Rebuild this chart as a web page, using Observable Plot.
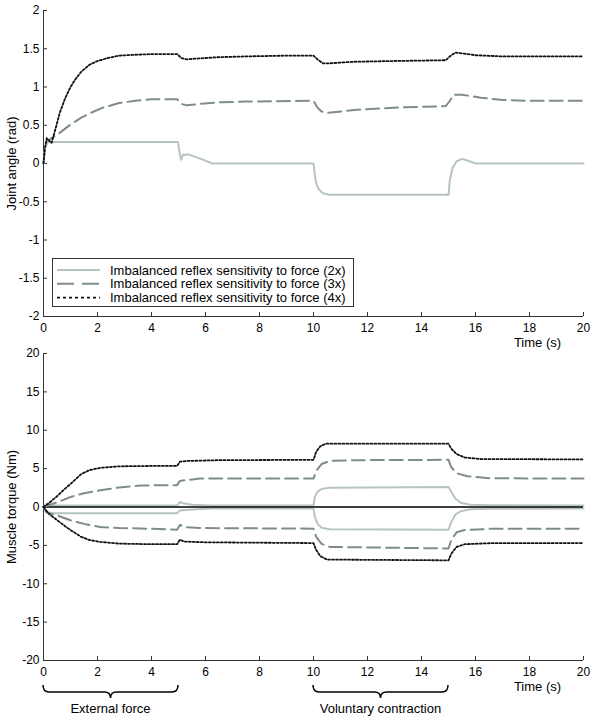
<!DOCTYPE html>
<html>
<head>
<meta charset="utf-8">
<script src="https://cdn.jsdelivr.net/npm/d3@7"></script>
<script src="https://cdn.jsdelivr.net/npm/@observablehq/plot@0.6"></script>
<style>
  body { margin: 0; background: white; }
  #wrap { position: relative; width: 600px; height: 719px; overflow: hidden; font-family: "Liberation Sans", Arial, sans-serif; }
  #top, #bottom { position: absolute; left: 0; }
  #top { top: 0; }
  #bottom { top: 330px; }
</style>
</head>
<body>
<div id="wrap"><div id="top"></div><div id="bottom"></div></div>
<script>
// ---------- data ----------
const seriesNames = [
  "Imbalanced reflex sensitivity to force (2x)",
  "Imbalanced reflex sensitivity to force (3x)",
  "Imbalanced reflex sensitivity to force (4x)"
];
const xTicks = [0, 2, 4, 6, 8, 10, 12, 14, 16, 18, 20];
const angleTicks = [-2, -1.5, -1, -0.5, 0, 0.5, 1, 1.5, 2];
const torqueTicks = [-20, -15, -10, -5, 0, 5, 10, 15, 20];

// Joint angle (rad) vs time (s): [t, value]
const angle2x = [[0,0],[0.05,0.18],[0.15,0.28],[4.98,0.28],[5.05,0.12],[5.1,0.05],[5.17,0.12],[5.25,0.11],[5.35,0.12],[5.6,0.09],[5.9,0.05],[6.25,0.0],[10.0,0.0],[10.05,-0.15],[10.1,-0.26],[10.2,-0.34],[10.35,-0.39],[10.6,-0.41],[15.0,-0.41],[15.05,-0.22],[15.15,-0.06],[15.3,0.03],[15.5,0.06],[15.7,0.04],[16.0,0.0],[20,0.0]];
const angle3x = [[0,0],[0.05,0.2],[0.12,0.3],[0.3,0.33],[0.6,0.4],[1.0,0.51],[1.4,0.6],[1.8,0.67],[2.2,0.73],[2.8,0.79],[3.4,0.82],[4.0,0.84],[4.95,0.84],[5.1,0.78],[5.3,0.76],[5.8,0.78],[6.5,0.8],[7.5,0.81],[10,0.82],[10.15,0.73],[10.3,0.68],[10.5,0.66],[11.5,0.7],[13,0.73],[14.9,0.75],[15.05,0.82],[15.2,0.9],[15.5,0.9],[16.2,0.86],[17,0.83],[18,0.82],[20,0.82]];
const angle4x = [[0,0],[0.05,0.2],[0.12,0.33],[0.2,0.3],[0.3,0.27],[0.45,0.46],[0.6,0.66],[0.8,0.85],[1.0,1.0],[1.2,1.11],[1.4,1.2],[1.7,1.29],[2.0,1.34],[2.4,1.38],[2.8,1.41],[3.3,1.42],[4.0,1.43],[4.95,1.43],[5.1,1.38],[5.3,1.36],[5.6,1.37],[6.5,1.39],[7.5,1.4],[9,1.41],[10,1.41],[10.15,1.36],[10.35,1.31],[10.6,1.31],[11.5,1.33],[13,1.34],[14.9,1.35],[15.05,1.4],[15.25,1.45],[15.5,1.44],[16,1.415],[17,1.4],[20,1.4]];

// Muscle torque (Nm) vs time (s): agonist (+) and antagonist (-)
const torque2xPos = [[0,0],[0.1,0.4],[0.3,0.2],[4.95,0.2],[5.05,0.65],[5.15,0.5],[5.5,0.3],[6.2,0.2],[10,0.2],[10.05,1.3],[10.15,2.0],[10.3,2.35],[10.6,2.5],[12,2.55],[15,2.6],[15.1,2.0],[15.25,1.1],[15.45,0.55],[15.8,0.3],[16.5,0.22],[20,0.2]];
const torque2xNeg = [[0,0],[0.1,-0.6],[0.3,-0.8],[4.95,-0.8],[5.05,-0.45],[5.3,-0.38],[5.8,-0.25],[6.3,-0.2],[10,-0.2],[10.05,-1.3],[10.15,-2.2],[10.3,-2.7],[10.6,-2.9],[15,-2.95],[15.1,-2.0],[15.25,-1.0],[15.45,-0.55],[15.8,-0.3],[16.5,-0.22],[20,-0.2]];
const torque3xPos = [[0,0],[0.5,0.6],[1.0,1.3],[1.5,1.8],[2.1,2.17],[2.8,2.55],[3.6,2.8],[4.95,2.85],[5.05,3.4],[5.4,3.55],[5.8,3.7],[10,3.7],[10.1,4.7],[10.3,5.6],[10.6,6.0],[11.5,6.1],[15,6.15],[15.1,5.2],[15.3,4.4],[15.7,4.0],[16.5,3.75],[20,3.7]];
const torque3xNeg = [[0,0],[0.1,-0.7],[0.5,-1.1],[1.0,-1.73],[1.5,-2.2],[2.1,-2.6],[2.8,-2.75],[3.6,-2.8],[4.95,-2.95],[5.05,-2.35],[5.3,-2.65],[6,-2.75],[10,-2.82],[10.1,-3.9],[10.3,-4.8],[10.6,-5.2],[15,-5.4],[15.1,-4.3],[15.3,-3.3],[15.6,-3.0],[16.5,-2.85],[20,-2.82]];
const torque4xPos = [[0,0],[0.2,0.5],[0.5,1.4],[0.8,2.4],[1.0,3.0],[1.4,4.3],[1.7,4.8],[2.1,5.1],[2.8,5.3],[4,5.35],[4.95,5.35],[5.05,5.9],[5.3,6.0],[6.5,6.1],[10,6.15],[10.1,7.2],[10.25,7.9],[10.45,8.25],[15,8.25],[15.1,7.6],[15.3,6.9],[15.6,6.45],[16.2,6.25],[20,6.2]];
const torque4xNeg = [[0,0],[0.2,-0.9],[0.5,-1.7],[0.8,-2.5],[1.0,-3.0],[1.4,-3.9],[1.7,-4.3],[2.1,-4.55],[2.8,-4.77],[4,-4.85],[4.95,-4.85],[5.05,-4.25],[5.2,-4.5],[6,-4.6],[10,-4.7],[10.1,-5.6],[10.25,-6.4],[10.5,-6.85],[15,-6.95],[15.1,-6.1],[15.3,-5.2],[15.6,-4.85],[16.5,-4.72],[20,-4.7]];

// annotation braces
const braceStart = [0, 10];
const braceEnd = [5, 15];
const braceLabels = ["External force", "Voluntary contraction"];

// ---------- styles ----------
const FONT = '"Liberation Sans", Arial, sans-serif';
const C2 = "#b6c4c2", C3 = "#7e8c8b", C4 = "#111111";
const st2 = {stroke: C2, strokeWidth: 2};
const st3 = {stroke: C3, strokeWidth: 2, strokeDasharray: "13,6"};
const st4 = {stroke: C4, strokeWidth: 1.8, strokeDasharray: "2,2"};
const AX = "#333";

function axesMarks(yTicks, yLabel, plotW, plotH, yMin) {
  return [
    Plot.axisX({ticks: xTicks, tickSize: 0, tickPadding: 7, tickFormat: d => String(d), fontSize: 12, label: null}),
    Plot.axisY({ticks: yTicks, tickSize: 0, tickPadding: 4, tickFormat: d => String(d), fontSize: 12, label: null}),
    Plot.tickX(xTicks, {x: d => d, stroke: AX, insetTop: plotH - 4}),
    Plot.tickY(yTicks, {y: d => d, stroke: AX, insetRight: plotW - 4}),
    Plot.ruleX([0], {stroke: AX, strokeWidth: 1}),
    Plot.ruleY([yMin], {stroke: AX, strokeWidth: 1}),
    Plot.text([yLabel], {frameAnchor: "left", textAnchor: "middle", rotate: -90, dx: -32, fontSize: 13, fill: "#000"}),
    Plot.text(["Time (s)"], {frameAnchor: "bottom-right", textAnchor: "middle", dx: -46, dy: 30, fontSize: 13, fill: "#000"})
  ];
}

const line = (data, st) => Plot.line(data, {x: d => d[0], y: d => d[1], ...st});

// ---------- top chart ----------
const topW = 600, topH = 360, tML = 43, tMR = 17, tMT = 10, tMB = 44;
const topSvg = Plot.plot({
  width: topW, height: topH,
  marginLeft: tML, marginRight: tMR, marginTop: tMT, marginBottom: tMB,
  x: {domain: [0, 20]},
  y: {domain: [-2, 2]},
  style: {background: "transparent", fontFamily: FONT, color: "#000", overflow: "visible"},
  marks: [
    ...axesMarks(angleTicks, "Joint angle (rad)", topW - tML - tMR, topH - tMT - tMB, -2),
    line(angle2x, st2),
    line(angle3x, st3),
    line(angle4x, st4)
  ]
});

// legend inside the top axes
{
  const g = d3.select(topSvg).append("g").attr("font-family", FONT).attr("font-size", 13);
  const lx = 52.5, ly = 258.5, lw = 301, lh = 48;
  g.append("rect").attr("x", lx).attr("y", ly).attr("width", lw).attr("height", lh)
    .attr("fill", "white").attr("stroke", AX).attr("stroke-width", 1);
  const styles = [st2, {...st3, strokeDasharray: "17,8"}, {...st4, strokeDasharray: "3,3"}];
  seriesNames.forEach((name, i) => {
    const y = 270 + i * 13.8;
    const s = styles[i];
    g.append("line").attr("x1", 57).attr("x2", 100).attr("y1", y).attr("y2", y)
      .attr("stroke", s.stroke).attr("stroke-width", s.strokeWidth)
      .attr("stroke-dasharray", s.strokeDasharray || null);
    g.append("text").attr("x", 110).attr("y", y).attr("dy", "0.35em")
      .attr("fill", "#000").attr("text-anchor", "start").text(name);
  });
}
document.getElementById("top").appendChild(topSvg);

// ---------- bottom chart ----------
const botW = 600, botH = 389, bML = 43, bMR = 17, bMT = 23, bMB = 59;
const braces = braceStart.map((s, i) => ({s, e: braceEnd[i], label: braceLabels[i]}));
function braceMark(index, scales, values, dimensions) {
  const {x} = scales;
  const base = dimensions.height - dimensions.marginBottom;
  const top = base + 25, mid = base + 32, tip = base + 38, r = 6;
  const g = d3.create("svg:g");
  for (const b of braces) {
    const x0 = x(b.s), x1 = x(b.e), cx = (x0 + x1) / 2;
    g.append("path")
      .attr("d", `M${x0},${top}Q${x0},${mid} ${x0 + r},${mid}L${cx - r},${mid}Q${cx},${mid} ${cx},${tip}Q${cx},${mid} ${cx + r},${mid}L${x1 - r},${mid}Q${x1},${mid} ${x1},${top}`)
      .attr("fill", "none").attr("stroke", "#000").attr("stroke-width", 1.5);
    g.append("text").attr("x", cx).attr("y", base + 48).attr("dy", "0.35em")
      .attr("text-anchor", "middle").attr("font-size", 13).attr("font-family", FONT)
      .attr("fill", "#000").text(b.label);
  }
  return g.node();
}

const botSvg = Plot.plot({
  width: botW, height: botH,
  marginLeft: bML, marginRight: bMR, marginTop: bMT, marginBottom: bMB,
  x: {domain: [0, 20]},
  y: {domain: [-20, 20]},
  style: {background: "transparent", fontFamily: FONT, color: "#000", overflow: "visible"},
  marks: [
    ...axesMarks(torqueTicks, "Muscle torque (Nm)", botW - bML - bMR, botH - bMT - bMB, -20),
    line(torque2xPos, st2),
    line(torque2xNeg, st2),
    Plot.ruleY([0], {stroke: "#000", strokeWidth: 1.3}),
    line(torque3xPos, st3),
    line(torque3xNeg, st3),
    line(torque4xPos, st4),
    line(torque4xNeg, st4),
    braceMark
  ]
});
document.getElementById("bottom").appendChild(botSvg);
</script>
</body>
</html>
